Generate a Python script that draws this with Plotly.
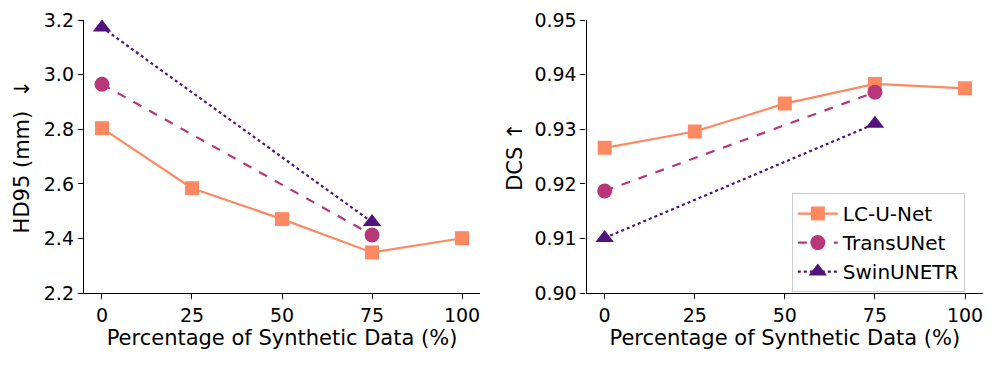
import plotly.graph_objects as go
from plotly.subplots import make_subplots

# synthetic data percentage
pct = [0, 25, 50, 75, 100]
pct_short = [0, 75]

# HD95 (mm)
hd_lcunet = [2.804, 2.584, 2.471, 2.349, 2.401]
hd_transunet = [2.965, 2.413]
hd_swinunetr = [3.173, 2.460]

# DCS
dcs_lcunet = [0.9266, 0.9296, 0.9347, 0.9383, 0.9375]
dcs_transunet = [0.9187, 0.9368]
dcs_swinunetr = [0.9101, 0.9310]

c_lc = "#FC8961"
c_tr = "#B73779"
c_sw = "#51127C"

fs_title = 21
fs_tick = 19
fs_leg = 20

fig = make_subplots(rows=1, cols=2)

def add_series(col, x, y, name, color, dash, symbol, msize, show):
    fig.add_trace(go.Scatter(
        x=x, y=y, name=name, mode="lines+markers",
        line=dict(color=color, width=2.2, dash=dash),
        marker=dict(symbol=symbol, size=msize, color=color),
        showlegend=show, legendgroup=name,
    ), row=1, col=col)

add_series(1, pct, hd_lcunet, "LC-U-Net", c_lc, "solid", "square", 14, False)
add_series(1, pct_short, hd_transunet, "TransUNet", c_tr, "dash", "circle", 15, False)
add_series(1, pct_short, hd_swinunetr, "SwinUNETR", c_sw, "dot", "triangle-up", 16, False)

add_series(2, pct, dcs_lcunet, "LC-U-Net", c_lc, "solid", "square", 14, True)
add_series(2, pct_short, dcs_transunet, "TransUNet", c_tr, "dash", "circle", 15, True)
add_series(2, pct_short, dcs_swinunetr, "SwinUNETR", c_sw, "dot", "triangle-up", 16, True)

axis_style = dict(
    showline=True, linecolor="black", linewidth=1.3, mirror=False,
    ticks="outside", ticklen=5, tickwidth=1.3, tickcolor="black",
    showgrid=False, zeroline=False, automargin=False,
    tickfont=dict(size=fs_tick, color="black"),
)

fig.update_xaxes(axis_style, range=[-5, 105], tickvals=pct,
                 title=dict(text="Percentage of Synthetic Data (%)", font=dict(size=fs_title, color="black"), standoff=2))
fig.update_xaxes(domain=[0.0843, 0.482], row=1, col=1)
fig.update_xaxes(domain=[0.589, 0.987], row=1, col=2)

fig.update_yaxes(axis_style, domain=[0.197, 0.945])
fig.update_yaxes(range=[2.2, 3.2], tickvals=[2.2, 2.4, 2.6, 2.8, 3.0, 3.2], tickformat=".1f",
                 title=dict(text="HD95 (mm)  ↓", font=dict(size=fs_title, color="black"), standoff=8), row=1, col=1)
fig.update_yaxes(range=[0.90, 0.95], tickvals=[0.90, 0.91, 0.92, 0.93, 0.94, 0.95], tickformat=".2f",
                 title=dict(text="DCS ↑", font=dict(size=fs_title, color="black"), standoff=6), row=1, col=2)

fig.update_layout(
    width=996, height=365,
    margin=dict(l=0, r=0, t=0, b=0),
    plot_bgcolor="white", paper_bgcolor="white",
    font=dict(family="DejaVu Sans", size=fs_tick, color="black"),
    legend=dict(
        x=0.795, y=0.471, xanchor="left", yanchor="top",
        bordercolor="#cccccc", borderwidth=1, bgcolor="white",
        font=dict(size=fs_leg), itemwidth=40, tracegroupgap=0,
    ),
)

# page body has a default 8px margin; drop it so the figure sits at the corner
fig.write_html("out.html", config={"displayModeBar": False},
               post_script="document.body.style.margin='0';")
